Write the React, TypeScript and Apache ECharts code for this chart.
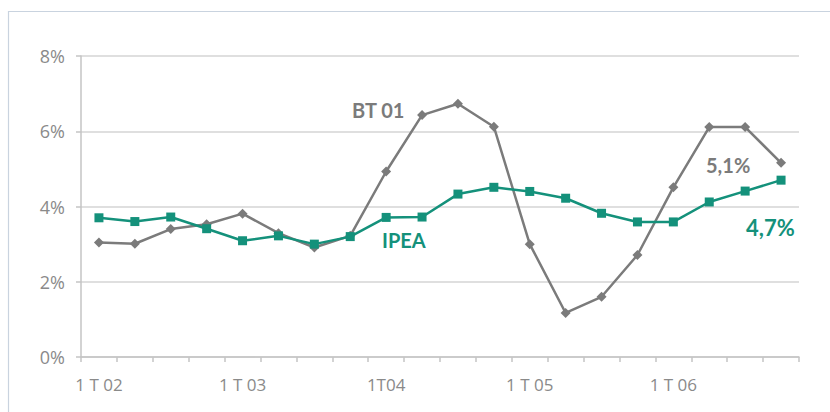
import React, { useEffect, useRef } from "react";
import * as echarts from "echarts";

const categories = [
  "1 T 02", "2 T 02", "3 T 02", "4 T 02",
  "1 T 03", "2 T 03", "3 T 03", "4 T 03",
  "1T04", "2T04", "3T04", "4T04",
  "1 T 05", "2 T 05", "3 T 05", "4 T 05",
  "1 T 06", "2 T 06", "3 T 06", "4 T 06",
];
const labelIndices = [0, 4, 8, 12, 16];

const bt01 = [3.04, 3.01, 3.4, 3.53, 3.81, 3.29, 2.91, 3.22, 4.93, 6.43, 6.73, 6.12, 3.0, 1.17, 1.6, 2.71, 4.51, 6.11, 6.11, 5.16];
const ipea = [3.7, 3.6, 3.72, 3.41, 3.09, 3.22, 3.0, 3.2, 3.71, 3.72, 4.33, 4.51, 4.4, 4.22, 3.82, 3.59, 3.59, 4.12, 4.41, 4.7];

const GRAY = "#7b7b7b";
const TEAL = "#14917b";
const FONT = "Lato, 'Open Sans', sans-serif";
const AXFONT = "'Open Sans', Lato, sans-serif";

export default function App() {
  const ref = useRef<HTMLDivElement>(null);
  useEffect(() => {
    if (!ref.current) return;
    const chart = echarts.init(ref.current, null, { renderer: "svg" });
    chart.setOption({
      animation: false,
      backgroundColor: "#ffffff",
      grid: { left: 81, right: 31, top: 56, bottom: 55, containLabel: false },
      xAxis: {
        type: "category",
        data: categories,
        boundaryGap: true,
        axisLine: { lineStyle: { color: "#c4c4c4", width: 1.5 } },
        axisTick: { show: true, interval: 0, length: 5, lineStyle: { color: "#c4c4c4", width: 1.5 } },
        axisLabel: {
          interval: (i: number) => labelIndices.includes(i),
          color: "#8a8a8a",
          fontSize: 17,
          fontFamily: AXFONT,
          margin: 19,
        },
        splitLine: { show: false },
      },
      yAxis: {
        type: "value",
        min: 0,
        max: 8,
        interval: 2,
        axisLine: { show: true, lineStyle: { color: "#c4c4c4", width: 1.5 } },
        axisTick: { show: true, length: 5, lineStyle: { color: "#c4c4c4", width: 1.5 } },
        axisLabel: {
          formatter: "{value}%",
          color: "#8a8a8a",
          fontSize: 18,
          fontFamily: AXFONT,
          margin: 16,
        },
        splitLine: { show: true, lineStyle: { color: "#d4d4d4", width: 1.5 } },
      },
      series: [
        {
          name: "BT 01",
          type: "line",
          data: bt01,
          symbol: "diamond",
          symbolSize: 10,
          itemStyle: { color: GRAY },
          lineStyle: { color: GRAY, width: 2.5 },
          z: 2,
        },
        {
          name: "IPEA",
          type: "line",
          data: ipea,
          symbol: "rect",
          symbolSize: 9,
          itemStyle: { color: TEAL },
          lineStyle: { color: TEAL, width: 2.5 },
          z: 3,
        },
      ],
      graphic: [
        {
          type: "polyline",
          shape: { points: [[8.5, 420], [8.5, 11.5], [840, 11.5]] },
          style: { stroke: "#c9d3df", lineWidth: 1.2, fill: null },
          silent: true,
        },
        {
          type: "text",
          left: 352,
          top: 100,
          style: { text: "BT 01", fill: GRAY, font: `bold 20px ${FONT}` },
        },
        {
          type: "text",
          left: 382,
          top: 230,
          style: { text: "IPEA", fill: TEAL, font: `bold 20px ${FONT}` },
        },
        {
          type: "text",
          left: 706,
          top: 155,
          style: { text: "5,1%", fill: GRAY, font: `bold 20px ${FONT}` },
        },
        {
          type: "text",
          left: 746,
          top: 216,
          style: { text: "4,7%", fill: TEAL, font: `bold 22px ${FONT}` },
        },
      ],
    });
    return () => chart.dispose();
  }, []);
  return (
    <div
      ref={ref}
      style={{ position: "fixed", left: 0, top: 0, width: 830, height: 412 }}
    />
  );
}
